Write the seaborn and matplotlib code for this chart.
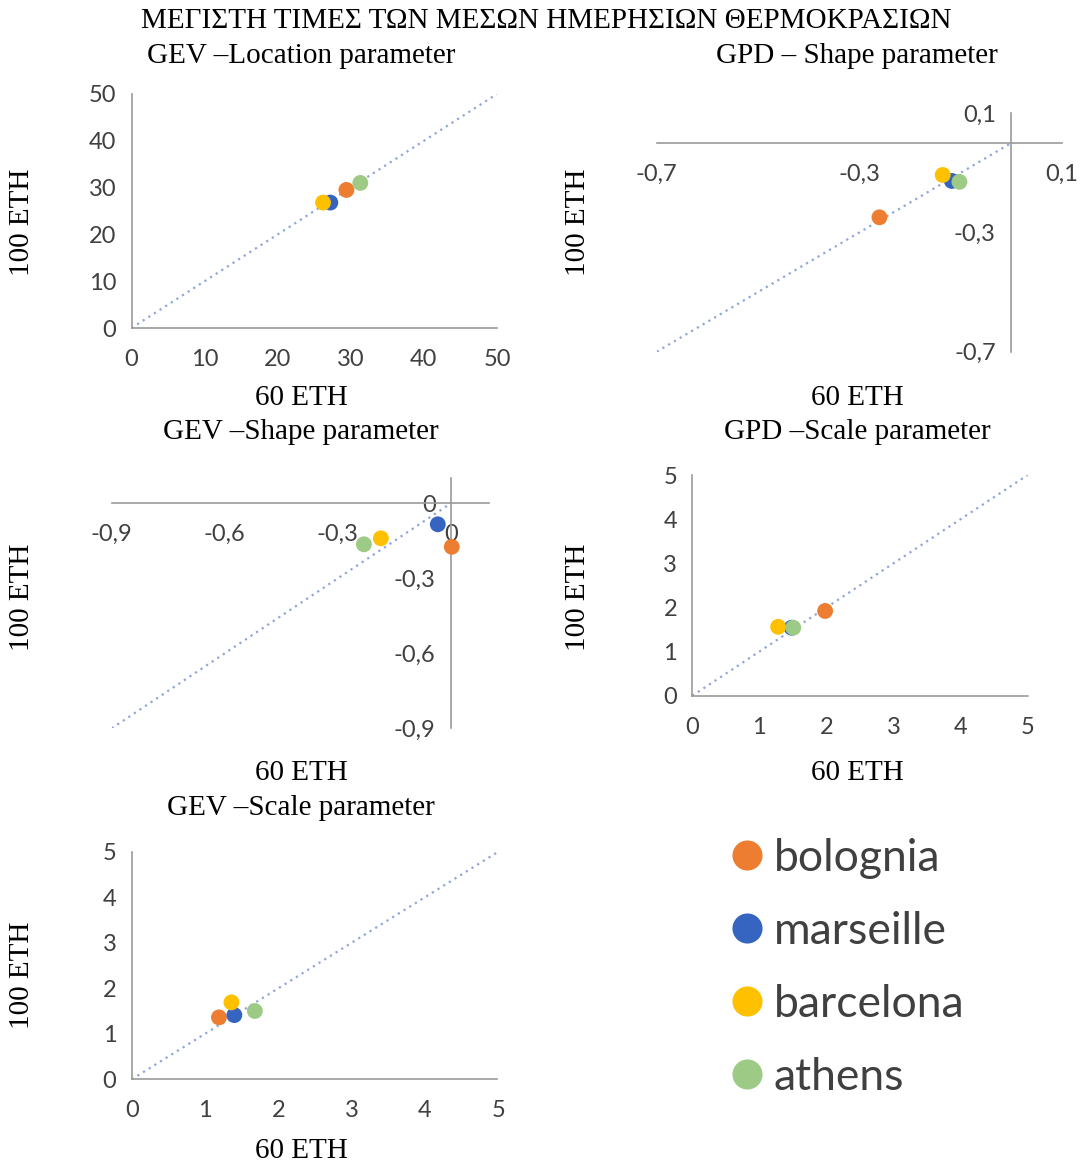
import pandas as pd
import seaborn as sns
import matplotlib.pyplot as plt

# Cities and colours
cities = ["bolognia", "marseille", "barcelona", "athens"]
colors = ["#ED7D31", "#3565C0", "#FFC000", "#9DCB86"]

# GEV - location parameter (60 ETH vs 100 ETH)
gev_loc_60 = [29.4, 27.2, 26.2, 31.3]
gev_loc_100 = [29.5, 26.8, 26.8, 31.0]

# GPD - shape parameter
gpd_shape_60 = [-0.26, -0.117, -0.135, -0.102]
gpd_shape_100 = [-0.249, -0.127, -0.107, -0.13]

# GEV - shape parameter
gev_shape_60 = [0.002, -0.035, -0.186, -0.231]
gev_shape_100 = [-0.174, -0.084, -0.14, -0.164]

# GPD - scale parameter
gpd_scale_60 = [1.98, 1.48, 1.28, 1.505]
gpd_scale_100 = [1.92, 1.54, 1.56, 1.54]

# GEV - scale parameter
gev_scale_60 = [1.19, 1.40, 1.36, 1.68]
gev_scale_100 = [1.36, 1.41, 1.69, 1.50]

# tick values
loc_ticks = [0, 10, 20, 30, 40, 50]
gpd_shape_ticks = [-0.7, -0.3, 0.1]
gev_shape_ticks = [-0.9, -0.6, -0.3, 0]
scale_ticks = [0, 1, 2, 3, 4, 5]

sns.set_style("white")
plt.rcParams["font.family"] = ["Lato", "DejaVu Sans"]

W, H = 1080, 1165
fig = plt.figure(figsize=(W / 100, H / 100), dpi=100)
palette = dict(zip(cities, colors))
serif = ["Liberation Serif", "DejaVu Serif"]


def px_axes(x0, x1, ytop, ybot):
    return fig.add_axes([x0 / W, 1 - ybot / H, (x1 - x0) / W, (ybot - ytop) / H])


def fmt(v):
    s = f"{v:g}".replace(".", ",")
    return s


def panel(ax, x, y, lims, ticks, diag, zero_spines=False):
    df = pd.DataFrame({"x": x, "y": y, "city": cities})
    ax.plot(diag, diag, linestyle=(0, (1, 2)), color="#8FA6DA", lw=1.6, zorder=1)
    sns.scatterplot(data=df, x="x", y="y", hue="city", palette=palette, s=130,
                    edgecolor="none", ax=ax, zorder=3, legend=True)
    ax.set_xlim(lims)
    ax.set_ylim(lims)
    ax.set_xticks(ticks)
    ax.set_yticks(ticks)
    ax.set_xticklabels([fmt(t) for t in ticks])
    ax.set_yticklabels([fmt(t) for t in ticks])
    ax.set_xlabel("")
    ax.set_ylabel("")
    for side in ["top", "right"]:
        ax.spines[side].set_visible(False)
    for side in ["left", "bottom"]:
        ax.spines[side].set_color("#9A9A9A")
        ax.spines[side].set_linewidth(1.2)
        ax.spines[side].set_linestyle((0, (1.5, 1)))
        if zero_spines:
            ax.spines[side].set_position(("data", 0))
    ax.tick_params(axis="both", length=4, width=1, color="#9A9A9A",
                   labelsize=17, labelcolor="#404040", direction="out")
    ax.tick_params(axis="x", pad=11)
    ax.tick_params(axis="y", pad=7)
    ax.patch.set_alpha(0)
    leg = ax.get_legend()
    handles = leg.legend_handles
    leg.remove()
    return handles


ax1 = px_axes(131.5, 497, 94, 328)
handles = panel(ax1, gev_loc_60, gev_loc_100, (0, 50), loc_ticks, [0, 50])

ax2 = px_axes(656.7, 1061.7, 113.3, 351.7)
panel(ax2, gpd_shape_60, gpd_shape_100, (-0.7, 0.1), gpd_shape_ticks, [-0.7, 0],
      zero_spines=True)

ax3 = px_axes(111.7, 488.7, 478.3, 728.3)
panel(ax3, gev_shape_60, gev_shape_100, (-0.9, 0.1), gev_shape_ticks, [-0.9, 0],
      zero_spines=True)

ax4 = px_axes(692.3, 1027.7, 475, 695.7)
panel(ax4, gpd_scale_60, gpd_scale_100, (0, 5), scale_ticks, [0, 5])

ax5 = px_axes(131.7, 498.3, 851.7, 1079.3)
panel(ax5, gev_scale_60, gev_scale_100, (0, 5), scale_ticks, [0, 5])


def ftext(x, y, s, **kw):
    fig.text(x / W, 1 - y / H, s, ha="center", va="center", family=serif,
             fontsize=21, color="black", **kw)


ftext(546, 21, "ΜΕΓΙΣΤΗ ΤΙΜΕΣ ΤΩΝ ΜΕΣΩΝ ΗΜΕΡΗΣΙΩΝ ΘΕΡΜΟΚΡΑΣΙΩΝ")
ftext(301, 56, "GEV –Location parameter")
ftext(857, 56, "GPD – Shape parameter")
ftext(301, 432, "GEV –Shape parameter")
ftext(857, 432, "GPD –Scale parameter")
ftext(301, 808, "GEV –Scale parameter")
for x, y in [(301, 398), (857, 398), (301, 773), (857, 773), (301, 1151)]:
    ftext(x, y, "60 ETH")
for x, y in [(22, 222), (578, 222), (22, 597), (578, 597), (22, 975)]:
    ftext(x, y, "100 ETH", rotation=90)

leg = fig.legend(handles, cities, loc="upper left",
                 bbox_to_anchor=(716 / W, 1 - 820 / H), frameon=False,
                 fontsize=32, markerscale=1.9, handlelength=0.6,
                 handletextpad=0.3, labelspacing=0.72, borderaxespad=0)
for t in leg.get_texts():
    t.set_color("#404040")

fig.savefig("out.png", dpi=100)
